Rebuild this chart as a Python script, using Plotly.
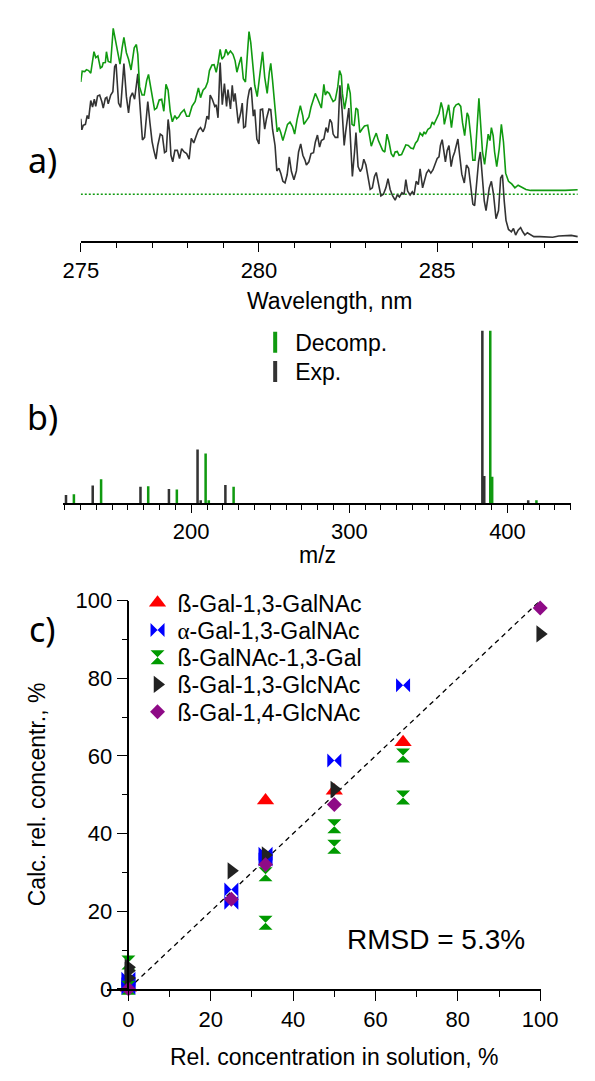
import plotly.graph_objects as go

W, H = 595, 1081
FONT = "Liberation Sans"
GREEN = "#109a10"
DARK = "#333333"

# ---------------- a) UV spectra (arbitrary units) ----------------
WL_DECOMP = [
    275.00, 275.04, 275.11, 275.16, 275.22, 275.28, 275.37, 275.42, 275.48, 275.55,
    275.60, 275.63, 275.69, 275.72, 275.77, 275.84, 275.91, 275.97, 276.03, 276.10,
    276.16, 276.21, 276.28, 276.34, 276.41, 276.45, 276.50, 276.56, 276.60, 276.65,
    276.72, 276.78, 276.85, 276.90, 276.95, 277.01, 277.07, 277.13, 277.20, 277.27,
    277.33, 277.39, 277.45, 277.51, 277.57, 277.64, 277.69, 277.75, 277.81, 277.90,
    277.97, 278.04, 278.12, 278.21, 278.30, 278.36, 278.43, 278.50, 278.56, 278.61,
    278.68, 278.74, 278.80, 278.85, 278.91, 278.96, 279.03, 279.07, 279.13, 279.20,
    279.27, 279.33, 279.38, 279.44, 279.50, 279.56, 279.62, 279.68, 279.72, 279.77,
    279.82, 279.88, 279.95, 280.01, 280.06, 280.10, 280.16, 280.23, 280.29, 280.33,
    280.38, 280.45, 280.51, 280.56, 280.61, 280.67, 280.73, 280.80, 280.87, 280.94,
    281.00, 281.07, 281.16, 281.23, 281.26, 281.33, 281.40, 281.46, 281.53, 281.58,
    281.64, 281.70, 281.75, 281.82, 281.86, 281.91, 281.97, 282.02, 282.08, 282.14,
    282.21,
    282.26, 282.31, 282.34, 282.40, 282.46, 282.50, 282.56, 282.61, 282.67, 282.72,
    282.77, 282.83, 282.89, 282.96, 283.05, 283.10, 283.15, 283.22, 283.29, 283.35,
    283.42, 283.47, 283.53, 283.59, 283.65, 283.71, 283.77, 283.82, 283.88, 283.93,
    284.00, 284.06, 284.12, 284.19, 284.26, 284.33, 284.39, 284.45, 284.52, 284.59,
    284.63, 284.67, 284.74, 284.81, 284.86, 284.91, 284.98, 285.05, 285.11, 285.16,
    285.20, 285.26, 285.32, 285.36, 285.40, 285.47, 285.53, 285.60, 285.66, 285.71,
    285.77, 285.84, 285.88, 285.95, 286.00, 286.06, 286.11, 286.17, 286.21, 286.27,
    286.33, 286.39, 286.43, 286.48, 286.52, 286.57, 286.61, 286.67, 286.74, 286.80,
    286.86, 286.92, 287.00, 287.09, 287.18, 287.27, 287.36, 287.49, 287.62, 287.88,
    288.24, 288.59, 288.94,
]
DECOMP = [
    345, 378, 377, 383, 380, 372, 438, 420, 425, 388,
    392, 404, 405, 438, 408, 405, 510, 475, 430, 400,
    450, 482, 435, 415, 382, 412, 450, 460, 430, 330,
    305, 305, 350, 368, 335, 290, 260, 265, 290, 292,
    255, 338, 320, 255, 223, 242, 232, 238, 250, 260,
    240, 240, 270, 285, 327, 297, 320, 328, 345, 380,
    397, 398, 375, 402, 445, 415, 425, 445, 430, 440,
    430, 410, 375, 400, 422, 355, 345, 440, 500, 465,
    400, 335, 300, 350, 390, 438, 360, 310, 375, 402,
    350, 260, 192, 205, 190, 165, 190, 215, 222, 208,
    185, 230, 272, 240, 215, 228, 238, 268, 290, 310,
    295, 280, 265, 338, 305, 315, 310, 298, 285, 290,
    330,
    380, 365, 310, 262, 300, 340, 310, 215, 210, 265,
    260, 190, 200, 210, 212, 175, 148, 170, 188, 165,
    145, 135, 130, 185, 160, 125, 115, 130, 132, 120,
    122, 135, 152, 150, 142, 140, 157, 165, 188, 180,
    192, 185, 200, 205, 222, 215, 230, 248, 282, 260,
    215, 250, 275, 240, 205, 265, 275, 278, 270, 220,
    180, 250, 240, 170, 105, 105, 200, 295, 230, 130,
    92, 160, 185, 165, 205, 180, 130, 85, 140, 215,
    160, 65, 40, 32, 20, 28, 22, 15, 12, 12,
    10, 12, 14,
]
# the decomposition trace is drawn shifted up by this amount (dotted zero line)
DECOMP_BASELINE = 143

WL_EXP = [
    275.00, 275.03, 275.07, 275.13, 275.18, 275.22, 275.28, 275.33, 275.38, 275.42,
    275.47, 275.53, 275.59, 275.63, 275.69, 275.73, 275.77, 275.84, 275.90, 275.95,
    275.99, 276.06, 276.12, 276.16, 276.21, 276.28, 276.34, 276.39, 276.45, 276.51,
    276.57, 276.60, 276.63, 276.67, 276.73, 276.79, 276.83, 276.88, 276.94, 277.00,
    277.05, 277.11, 277.16, 277.23, 277.29, 277.35, 277.40, 277.45, 277.49, 277.53,
    277.58, 277.64, 277.71, 277.77, 277.83, 277.90, 277.97, 278.04, 278.10, 278.17,
    278.24, 278.30, 278.36, 278.43, 278.48, 278.54, 278.59, 278.63, 278.69, 278.76,
    278.80, 278.85, 278.91, 278.97, 279.03, 279.09, 279.13, 279.20, 279.25, 279.29,
    279.33, 279.37, 279.42, 279.49, 279.53, 279.57, 279.62, 279.68, 279.73, 279.78,
    279.84, 279.88, 279.94, 280.00, 280.04, 280.10, 280.16, 280.21, 280.28, 280.33,
    280.38, 280.45, 280.50, 280.56, 280.61, 280.67, 280.73, 280.79, 280.85, 280.91,
    280.98, 281.05, 281.11, 281.17, 281.23, 281.29, 281.33, 281.40, 281.46, 281.53,
    281.58, 281.64, 281.70, 281.75, 281.82, 281.88, 281.93, 281.99, 282.04, 282.08,
    282.14, 282.21,
    282.27, 282.33, 282.39, 282.43, 282.48, 282.52, 282.57, 282.62, 282.68, 282.72,
    282.78, 282.84, 282.89, 282.94, 283.00, 283.06, 283.12, 283.18, 283.24, 283.29,
    283.35, 283.42, 283.49, 283.56, 283.62, 283.68, 283.75, 283.82, 283.88, 283.94,
    284.01, 284.07, 284.12, 284.17, 284.24, 284.30, 284.35, 284.41, 284.47, 284.52,
    284.59, 284.63, 284.70, 284.76, 284.82, 284.88, 284.94, 285.00, 285.05, 285.09,
    285.14, 285.18, 285.23, 285.28, 285.33, 285.39, 285.44, 285.49, 285.54, 285.58,
    285.63, 285.69, 285.76, 285.82, 285.88, 285.95, 286.00, 286.05, 286.11, 286.16,
    286.21, 286.27, 286.32, 286.37, 286.41, 286.46, 286.52, 286.58, 286.65, 286.72,
    286.78, 286.83, 286.88, 286.93, 287.00, 287.08, 287.14, 287.20, 287.27, 287.34,
    287.40, 287.46, 287.53, 287.60, 287.71, 287.88, 288.06, 288.24, 288.41, 288.59,
    288.76, 288.94,
]
EXP = [
    375, 341, 355, 358, 385, 375, 431, 411, 435, 413,
    445, 448, 428, 408, 438, 441, 421, 448, 458, 535,
    543, 423, 410, 488, 545, 443, 393, 441, 455, 435,
    488, 513, 463, 393, 310, 318, 363, 428, 363, 305,
    278, 251, 293, 328, 323, 271, 275, 373, 338, 263,
    243, 278, 278, 253, 283, 273, 268, 251, 315, 301,
    323, 341, 348, 335, 348, 383, 373, 448, 435, 413,
    418, 378, 548, 418, 483, 413, 465, 405, 478, 428,
    453, 403, 361, 395, 423, 348, 351, 433, 463, 471,
    383, 403, 313, 298, 403, 405, 343, 375, 405, 403,
    343, 293, 215, 223, 208, 183, 178, 203, 258, 213,
    188, 215, 273, 298, 263, 248, 233, 243, 268, 271,
    303, 325, 288, 308, 313, 348, 333, 373, 363, 328,
    318, 318,
    478, 403, 293, 333, 373, 408, 303, 198, 273, 333,
    228, 213, 223, 251, 233, 193, 158, 163, 198, 210,
    178, 138, 143, 163, 191, 158, 138, 125, 141, 135,
    148, 143, 188, 153, 141, 151, 141, 183, 173, 221,
    163, 183, 208, 218, 208, 218, 238, 253, 258, 293,
    311, 273, 243, 278, 293, 228, 258, 273, 293, 313,
    263, 205, 178, 233, 223, 163, 113, 108, 173, 243,
    273, 183, 123, 93, 123, 163, 183, 143, 68, 93,
    193, 203, 123, 63, 35, 28, 38, 18, 33, 41,
    28, 18, 25, 21, 13, 13, 13, 11, 15, 15,
    17, 13,
]

# ---------------- b) mass spectra (relative intensity, %) ----------------
MZ_EXP = [120.8, 137.7, 167.9, 185.9, 204.0, 206.0, 221.6, 384.1, 385.3, 413.1]
INT_EXP = [4.7, 10.2, 9.4, 8.1, 31.0, 1.6, 10.4, 100.0, 15.7, 1.6]
MZ_DECOMP = [125.8, 143.0, 172.8, 190.9, 209.1, 211.1, 226.8, 389.1, 390.3, 418.3]
INT_DECOMP = [5.1, 13.8, 9.8, 7.9, 28.7, 1.6, 9.4, 100.0, 15.3, 1.6]
MS_LABELS = ["Decomp.", "Exp."]

# ---------------- c) calculated vs. prepared concentrations (%) ----------------
NAMES = [
    "ß-Gal-1,3-GalNAc",
    "<span style='font-family:Liberation Serif'>α</span>-Gal-1,3-GalNAc",
    "ß-GalNAc-1,3-Gal",
    "ß-Gal-1,3-GlcNAc",
    "ß-Gal-1,4-GlcNAc",
]
B13GALNAC_X = [0, 33.3, 50, 66.7]
B13GALNAC_Y = [0.3, 48.5, 51.0, 63.5]
A13GALNAC_X = [0, 0, 0, 25, 25, 33.3, 33.3, 50, 66.7]
A13GALNAC_Y = [2.6, 1.2, 0.2, 25.6, 22.2, 34.8, 33.3, 58.8, 78.2]
GALNAC13GAL_X = [0, 0, 33.3, 33.3, 50, 50, 66.7, 66.7]
GALNAC13GAL_Y = [6.8, 0.3, 29.5, 17.0, 41.9, 36.6, 60.1, 49.3]
B13GLCNAC_X = [0, 0, 0, 25, 33.3, 50, 100]
B13GLCNAC_Y = [5.6, 4.7, 2.8, 30.4, 34.5, 51.4, 91.4]
B14GLCNAC_X = [0, 25, 33.3, 50, 100]
B14GLCNAC_Y = [0.0, 23.1, 32.0, 47.5, 98.1]
IDEAL_X = [0, 100]
IDEAL_Y = [0, 100]
RMSD = 5.3

SERIES = [
    (B13GALNAC_X, B13GALNAC_Y, "#ff0000", "triangle-up", 15),
    (A13GALNAC_X, A13GALNAC_Y, "#0000ff", "bowtie", 14),
    (GALNAC13GAL_X, GALNAC13GAL_Y, "#009a00", "hourglass", 14),
    (B13GLCNAC_X, B13GLCNAC_Y, "#222222", "triangle-right", 15),
    (B14GLCNAC_X, B14GLCNAC_Y, "#8e0a86", "diamond", 11.5),
]


def px_x(p):
    return p / W


def px_y(p):
    return (H - p) / H


fig = go.Figure()

# a) spectra
fig.add_trace(go.Scatter(
    x=[WL_DECOMP[0], WL_DECOMP[-1]], y=[DECOMP_BASELINE, DECOMP_BASELINE],
    mode="lines", line=dict(color=GREEN, width=1.5, dash="2px,2px"),
    xaxis="x", yaxis="y", showlegend=False, hoverinfo="skip", cliponaxis=False))
fig.add_trace(go.Scatter(
    x=WL_EXP, y=EXP, mode="lines", line=dict(color=DARK, width=1.6),
    xaxis="x", yaxis="y", showlegend=False))
fig.add_trace(go.Scatter(
    x=WL_DECOMP, y=[v + DECOMP_BASELINE for v in DECOMP], mode="lines",
    line=dict(color=GREEN, width=1.6), xaxis="x", yaxis="y", showlegend=False))

# b) stick spectra
fig.add_trace(go.Bar(x=MZ_EXP, y=INT_EXP, width=1.6, marker=dict(color=DARK, line_width=0),
                     xaxis="x2", yaxis="y2", showlegend=False))
fig.add_trace(go.Bar(x=MZ_DECOMP, y=INT_DECOMP, width=1.6, marker=dict(color=GREEN, line_width=0),
                     xaxis="x2", yaxis="y2", showlegend=False))

# one legend box per entry, so the row pitch can follow the layout
LEGEND_FONT = dict(family=FONT, size=23, color="black")
legend_boxes = {}


def legend_box(key, left_px, row_px):
    legend_boxes[key] = dict(
        x=px_x(left_px), y=px_y(row_px - 20), xanchor="left", yanchor="top",
        bgcolor="rgba(0,0,0,0)", font=LEGEND_FONT, borderwidth=0,
        itemclick=False, itemdoubleclick=False)


for i, (name, col) in enumerate(zip(MS_LABELS, [GREEN, DARK])):
    key = "legend" if i == 0 else f"legend{i + 1}"
    legend_box(key, 252, 336 + 30 * i)
    fig.add_trace(go.Scatter(
        x=[None], y=[None], mode="markers", name=name, legend=key,
        marker=dict(symbol="line-ns", size=15, line=dict(width=4, color=col)),
        xaxis="x2", yaxis="y2"))

# c) scatter
fig.add_trace(go.Scatter(
    x=IDEAL_X, y=IDEAL_Y, mode="lines", line=dict(color="black", width=1.3, dash="5px,4px"),
    xaxis="x3", yaxis="y3", showlegend=False, hoverinfo="skip"))
for i, ((xs, ys, col, sym, size), name) in enumerate(zip(SERIES, NAMES)):
    key = f"legend{i + 3}"
    legend_box(key, 127, 602.7 + 27.9 * i)
    fig.add_trace(go.Scatter(
        x=xs, y=ys, mode="markers", name=name, legend=key,
        marker=dict(symbol=sym, size=size, color=col, line_width=0),
        xaxis="x3", yaxis="y3", cliponaxis=False))

tickfont = dict(family=FONT, size=22, color="black")
axis_common = dict(showline=True, linecolor="black", linewidth=1.5, ticks="outside",
                   tickwidth=1.3, tickcolor="black", showgrid=False, zeroline=False,
                   tickfont=tickfont, fixedrange=True)
minor_common = dict(ticks="outside", tickwidth=1.3, tickcolor="black")

fig.update_layout(
    width=W, height=H, margin=dict(l=0, r=0, t=0, b=0),
    paper_bgcolor="white", plot_bgcolor="white",
    font=dict(family=FONT, color="black"),
    barmode="overlay",
    xaxis=dict(domain=[px_x(66.7), 1.0], range=[275, 288.95], anchor="y",
               tick0=275, dtick=5, ticklen=9,
               minor=dict(dtick=1, ticklen=5, **minor_common), **axis_common),
    yaxis=dict(domain=[px_y(234.3), 1.0], range=[0, 703], visible=False, fixedrange=True),
    xaxis2=dict(domain=[px_x(48.3), px_x(587.3)], range=[119.2, 440], anchor="y2",
                tick0=0, dtick=100, ticklen=8,
                minor=dict(dtick=10, ticklen=5, **minor_common), **axis_common),
    yaxis2=dict(domain=[px_y(502.7), px_y(326)], range=[0, 100], visible=False, fixedrange=True),
    xaxis3=dict(domain=[px_x(95), px_x(555.7)], range=[-5.1, 100.2], anchor="y3",
                tick0=0, dtick=20, ticklen=10,
                minor=dict(dtick=10, ticklen=6, **minor_common), **axis_common),
    yaxis3=dict(domain=[px_y(1000), px_y(602.5)], range=[0, 100], anchor="free",
                position=px_x(117.3), tick0=0, dtick=20, ticklen=11,
                minor=dict(dtick=10, ticklen=6, **minor_common), **axis_common),
    **legend_boxes,
)

ann = [
    dict(text="a)", x=px_x(26), y=px_y(152), size=34, fam="Noto Sans"),
    dict(text="b)", x=px_x(26), y=px_y(415), size=34, fam="Noto Sans"),
    dict(text="c)", x=px_x(26), y=px_y(632), size=34, fam="Noto Sans"),
    dict(text="Wavelength, nm", x=px_x(331), y=px_y(296), size=23, fam=FONT),
    dict(text="m/z", x=px_x(318), y=px_y(556), size=23, fam=FONT),
    dict(text="Rel. concentration in solution, %", x=px_x(336), y=px_y(1070), size=23, fam=FONT),
    dict(text=f"RMSD = {RMSD}%", x=px_x(444), y=px_y(949), size=28, fam=FONT),
]
for a in ann:
    fig.add_annotation(text=a["text"], x=a["x"], y=a["y"], xref="paper", yref="paper",
                       xanchor="center", yanchor="middle", showarrow=False,
                       font=dict(family=a["fam"], size=a["size"], color="black"))
fig.add_annotation(text="Calc. rel. concentr., %", x=px_x(21), y=px_y(801), xref="paper",
                   yref="paper", xanchor="center", yanchor="middle", showarrow=False,
                   textangle=-90, font=dict(family=FONT, size=23, color="black"))

fig.write_html("out.html")
